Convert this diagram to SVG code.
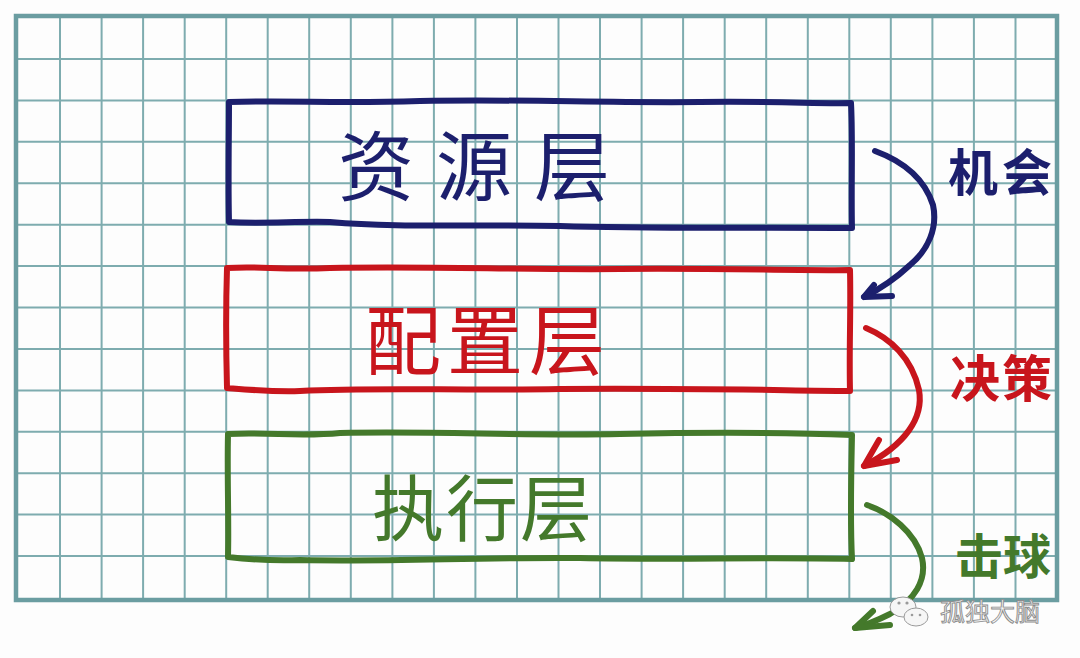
<svg xmlns="http://www.w3.org/2000/svg" width="1080" height="658" viewBox="0 0 1080 658">
<style>
.grid{stroke:#7eacaf;stroke-width:2;fill:none}
.border{stroke:#6b9da1;stroke-width:4.5;fill:none}
.hand{fill:none;stroke-width:6;stroke-linecap:round;stroke-linejoin:round}
.blue{stroke:#1c1f6d}
.red{stroke:#c8151c}
.green{stroke:#44792b}
.lbl{font-family:"Noto Sans CJK SC","Noto Sans",sans-serif;font-weight:400}
.elbl{font-family:"Noto Sans CJK SC","Noto Sans",sans-serif;font-weight:700}
.tb{fill:#1c1f6d}
.tr{fill:#c8151c}
.tg{fill:#44792b}
.wm{font-family:"Noto Sans CJK SC",sans-serif;font-size:25px;fill:#f4f4f4;stroke:#8c8c8c;stroke-width:0.9}
</style>
<rect width="1080" height="658" fill="#fdfdfd"/>
<g id="grid">
<path class="grid" d="M60,16V600M101.6,16V600M143.1,16V600M184.7,16V600M226.2,16V600M267.7,16V600M309.2,16V600M350.8,16V600M392.4,16V600M433.9,16V600M475.4,16V600M517,16V600M558.5,16V600M600,16V600M641.6,16V600M683.1,16V600M724.7,16V600M766.2,16V600M807.8,16V600M849.3,16V600M890.8,16V600M932.4,16V600M973.9,16V600M1015.5,16V600"/>
<path class="grid" d="M16,59H1057M16,100.4H1057M16,141.8H1057M16,183.3H1057M16,224.7H1057M16,266.1H1057M16,307.5H1057M16,348.9H1057M16,390.4H1057M16,431.8H1057M16,473.2H1057M16,514.6H1057M16,556H1057"/>
<rect class="border" x="16" y="16" width="1041" height="584"/>
</g>
<g id="node-resource">
<path class="hand blue" d="M229,102 C300,100 330,104 420,101 C520,99 600,103 700,102 C780,101 820,104 851,103 C853,140 851,190 852,228 C760,227 650,229 560,226 C470,224 400,228 330,222 C300,221 260,224 229,222 C228,180 229,140 229,102 Z"/>
<text class="lbl tb" x="338" y="195" font-size="76" letter-spacing="22">资源层</text>
</g>
<g id="node-config">
<path class="hand red" d="M227,268 C260,266 280,270 330,268 C430,266 520,270 620,269 C720,268 800,271 850,270 C851,310 849,350 850,391 C760,390 680,388 560,389 C460,391 380,387 300,391 C270,392 240,389 227,388 C226,350 226,300 227,268 Z"/>
<text class="lbl tr" x="365" y="369" font-size="76" letter-spacing="6">配置层</text>
</g>
<g id="node-exec">
<path class="hand green" d="M228,434 C270,432 300,437 340,433 C440,431 520,436 620,434 C720,432 800,433 852,435 C851,480 850,520 852,559 C760,557 680,560 580,558 C480,557 390,562 300,560 C270,561 245,559 228,557 C229,520 227,480 228,434 Z"/>
<text class="lbl tg" x="372" y="535" font-size="72" letter-spacing="2">执行层</text>
</g>
<g id="connectors">
<path class="hand blue" d="M875,151 C905,162 925,180 933,205 C938,228 928,250 910,265 C895,279 880,289 864,297"/>
<path class="hand blue" d="M874,285 L864,297 L892,296"/>
<path class="hand red" d="M866,328 C890,338 912,358 919,390 C924,418 905,445 864,466"/>
<path class="hand red" d="M879,440 L864,466 L897,460"/>
<path class="hand green" d="M867,505 C890,513 915,532 922,558 C927,580 915,600 890,614 C878,620 866,625 855,628"/>
<path class="hand green" d="M873,611 L855,628 L890,625"/>
</g>
<g id="edge-labels">
<text class="elbl tb" x="948" y="191" font-size="50" letter-spacing="4">机会</text>
<text class="elbl tr" x="950" y="397" font-size="50" letter-spacing="2">决策</text>
<text class="elbl tg" x="955" y="574" font-size="48" letter-spacing="0">击球</text>
</g>
<g id="watermark">
<ellipse cx="903" cy="607" rx="13" ry="10" fill="#f6f6f6" stroke="#9a9a9a" stroke-width="1"/>
<ellipse cx="916" cy="617" rx="12" ry="9" fill="#f6f6f6" stroke="#9a9a9a" stroke-width="1"/>
<circle cx="899" cy="603" r="1.6" fill="#9a9a9a"/>
<circle cx="907" cy="603" r="1.6" fill="#9a9a9a"/>
<circle cx="912" cy="615" r="1.3" fill="#9a9a9a"/>
<circle cx="920" cy="615" r="1.3" fill="#9a9a9a"/>
<text class="wm" x="940" y="621">孤独大脑</text>
</g>
</svg>
